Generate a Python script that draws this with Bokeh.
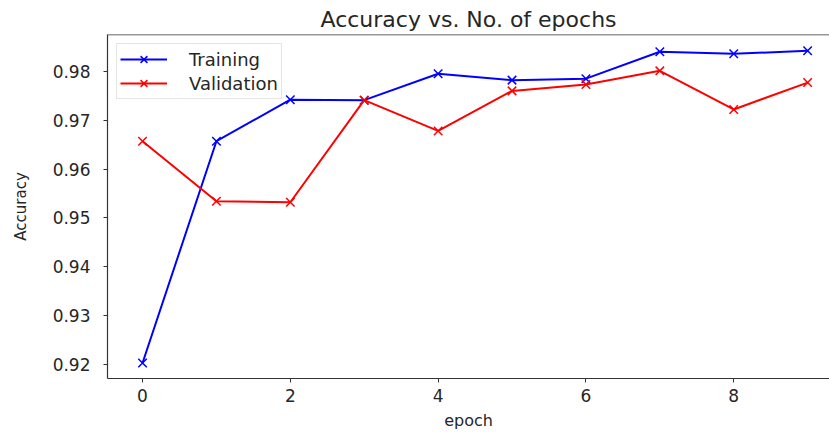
from bokeh.plotting import figure
from bokeh.models import Range1d, FixedTicker, PrintfTickFormatter, Span
from bokeh.embed import file_html
from bokeh.resources import INLINE

epochs = [0, 1, 2, 3, 4, 5, 6, 7, 8, 9]
train_acc = [0.9203, 0.9657, 0.9742, 0.9741, 0.9795, 0.9782, 0.9785, 0.9840, 0.9836, 0.9842]
val_acc = [0.9657, 0.9534, 0.9532, 0.9741, 0.9678, 0.9760, 0.9773, 0.9801, 0.9722, 0.9777]
x_ticks = [0, 2, 4, 6, 8]
y_ticks = [0.92, 0.93, 0.94, 0.95, 0.96, 0.97, 0.98]

FONT = "DejaVu Sans"
TXT = "#262626"
SPINE = "#333333"
Y_TOP = 0.98754

p = figure(width=829, height=432, output_backend="svg", toolbar_location=None,
           x_range=Range1d(-0.474, 9.296), y_range=Range1d(0.91713, Y_TOP),
           min_border_left=107, min_border_right=0, min_border_top=34, min_border_bottom=54,
           title="Accuracy vs. No. of epochs")

p.title.align = "center"
p.title.text_font = FONT
p.title.text_font_size = "22px"
p.title.text_font_style = "normal"
p.title.text_color = TXT
p.title.standoff = 5

p.grid.visible = False
p.outline_line_color = None
p.background_fill_color = "white"
p.border_fill_color = "white"

for ax in (p.xaxis[0], p.yaxis[0]):
    ax.major_label_text_font = FONT
    ax.major_label_text_font_size = "17px"
    ax.major_label_text_color = TXT
    ax.axis_label_text_font = FONT
    ax.axis_label_text_font_style = "normal"
    ax.axis_label_text_color = TXT
    ax.axis_line_color = SPINE
    ax.axis_line_width = 1.2
    ax.major_tick_line_color = SPINE
    ax.major_tick_out = 4
    ax.major_tick_in = 0
    ax.minor_tick_line_color = None

p.xaxis.ticker = FixedTicker(ticks=x_ticks)
p.yaxis.ticker = FixedTicker(ticks=y_ticks)
p.yaxis.formatter = PrintfTickFormatter(format="%.2f")
p.xaxis.axis_label = "epoch"
p.yaxis.axis_label = "Accuracy"
p.xaxis.axis_label_text_font_size = "16px"
p.yaxis.axis_label_text_font_size = "15px"
p.xaxis.major_label_standoff = 6
p.yaxis.major_label_standoff = 13
p.xaxis.axis_label_standoff = 6
p.yaxis.axis_label_standoff = 20

# top spine only (right spine lies outside the picture in the reference)
p.add_layout(Span(location=Y_TOP, dimension="width", line_color=SPINE, line_width=1.5))

p.line(epochs, train_acc, color="blue", line_width=2, legend_label="Training")
p.scatter(epochs, train_acc, marker="x", size=12, line_color="blue", line_width=1.5, legend_label="Training")
p.line(epochs, val_acc, color="red", line_width=2, legend_label="Validation")
p.scatter(epochs, val_acc, marker="x", size=12, line_color="red", line_width=1.5, legend_label="Validation")

lg = p.legend[0]
lg.location = "top_left"
lg.margin = 9
lg.padding = 3
lg.spacing = 0
lg.glyph_width = 47
lg.glyph_height = 24
lg.label_standoff = 22
lg.label_text_font = FONT
lg.label_text_font_size = "18px"
lg.label_text_color = TXT
lg.border_line_color = "#cccccc"
lg.border_line_width = 1
lg.background_fill_alpha = 0.8

open("out.html", "w").write(file_html(p, INLINE))
